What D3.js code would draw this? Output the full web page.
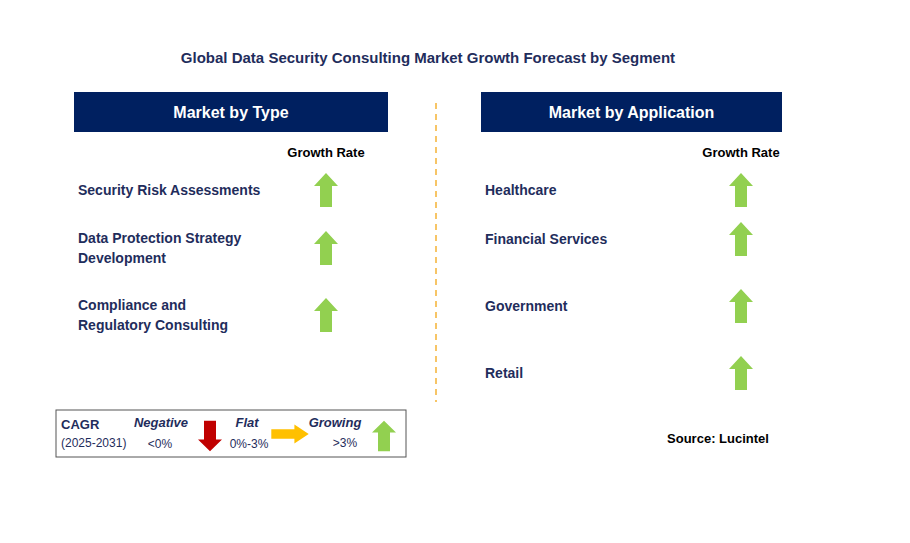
<!DOCTYPE html>
<html><head><meta charset="utf-8">
<script src="https://cdn.jsdelivr.net/npm/d3@7"></script>
<style>body{margin:0;background:#fff}text{font-family:Arial,"Liberation Sans",sans-serif}</style>
</head><body>
<script>
const TITLE = 'Global Data Security Consulting Market Growth Forecast by Segment';
const typeSegments = [['Security Risk Assessments'], ['Data Protection Strategy', 'Development'], ['Compliance and', 'Regulatory Consulting']];
const typeGrowth = ['up', 'up', 'up'];
const appSegments = [['Healthcare'], ['Financial Services'], ['Government'], ['Retail']];
const appGrowth = ['up', 'up', 'up', 'up'];

const W = 910, H = 543, NAVY = '#002060', TXT = '#1f2d5c';
const svg = d3.select('body').append('svg').attr('width', W).attr('height', H);

svg.append('text').attr('x', 428).attr('y', 63).attr('text-anchor', 'middle')
  .attr('font-size', 15).attr('font-weight', 'bold').attr('fill', TXT).text(TITLE);

// arrow shapes, centered at 0,0
function arrow(g, dir) {
  const up = 'M0,-17 L12,-4 L6,-4 L6,17 L-6,17 L-6,-4 L-12,-4 Z';
  const p = g.append('path').attr('d', up);
  if (dir === 'up') p.attr('fill', '#92d050');
  if (dir === 'down') p.attr('fill', '#c00000').attr('transform', 'rotate(180)');
  if (dir === 'flat') p.attr('fill', '#ffc000').attr('transform', 'rotate(90) scale(0.8,1.1)');
}

function panel(x0, width, header, segs, growth, rowY, arrowX) {
  svg.append('rect').attr('x', x0).attr('y', 92).attr('width', width).attr('height', 40).attr('fill', NAVY);
  svg.append('text').attr('x', x0 + width / 2).attr('y', 118).attr('text-anchor', 'middle')
    .attr('font-size', 16).attr('font-weight', 'bold').attr('fill', '#fff').text(header);
  svg.append('text').attr('x', arrowX).attr('y', 157).attr('text-anchor', 'middle')
    .attr('font-size', 13).attr('font-weight', 'bold').attr('fill', '#000').text('Growth Rate');
  const y = d3.scaleOrdinal().domain(segs.map(d => d.join(' '))).range(rowY);
  segs.forEach((lines, i) => {
    const cy = y(lines.join(' '));
    const t = svg.append('text').attr('font-size', 14).attr('font-weight', 'bold').attr('fill', TXT);
    lines.forEach((l, j) => t.append('tspan').attr('x', x0 + 4)
      .attr('y', cy + 5 + (j - (lines.length - 1) / 2) * 20).text(l));
    arrow(svg.append('g').attr('transform', `translate(${arrowX},${cy})`), growth[i]);
  });
}

panel(74, 314, 'Market by Type', typeSegments, typeGrowth, [190, 248, 315], 326);
panel(481, 301, 'Market by Application', appSegments, appGrowth, [190, 239, 306, 373], 741);

svg.append('line').attr('x1', 436).attr('x2', 436).attr('y1', 103).attr('y2', 402)
  .attr('stroke', '#f5b335').attr('stroke-width', 1.5).attr('stroke-dasharray', '6,5');

// legend
svg.append('rect').attr('x', 56).attr('y', 410).attr('width', 350).attr('height', 47)
  .attr('fill', '#fff').attr('stroke', '#555').attr('stroke-width', 1);
const lg = (x, y, s, o = {}) => svg.append('text').attr('x', x).attr('y', y).attr('font-size', o.size || 12)
  .attr('font-weight', o.bold ? 'bold' : null).attr('font-style', o.italic ? 'italic' : null)
  .attr('text-anchor', o.anchor || 'start').attr('fill', TXT).text(s);
lg(61, 429, 'CAGR', {bold: true, size: 13});
lg(61, 447, '(2025-2031)', {size: 12});
lg(161, 427, 'Negative', {bold: true, italic: true, size: 13, anchor: 'middle'});
lg(160, 448, '<0%', {size: 12, anchor: 'middle'});
lg(247, 427, 'Flat', {bold: true, italic: true, size: 13, anchor: 'middle'});
lg(249, 448, '0%-3%', {size: 12, anchor: 'middle'});
lg(335, 427, 'Growing', {bold: true, italic: true, size: 13, anchor: 'middle'});
lg(345, 447, '>3%', {size: 12, anchor: 'middle'});
arrow(svg.append('g').attr('transform', 'translate(210,436) scale(1,0.9)'), 'down');
arrow(svg.append('g').attr('transform', 'translate(290,434)'), 'flat');
arrow(svg.append('g').attr('transform', 'translate(384,436) scale(1,0.9)'), 'up');

svg.append('text').attr('x', 718).attr('y', 443).attr('text-anchor', 'middle').attr('font-size', 13)
  .attr('font-weight', 'bold').attr('fill', '#000').text('Source: Lucintel');
</script>
</body></html>
